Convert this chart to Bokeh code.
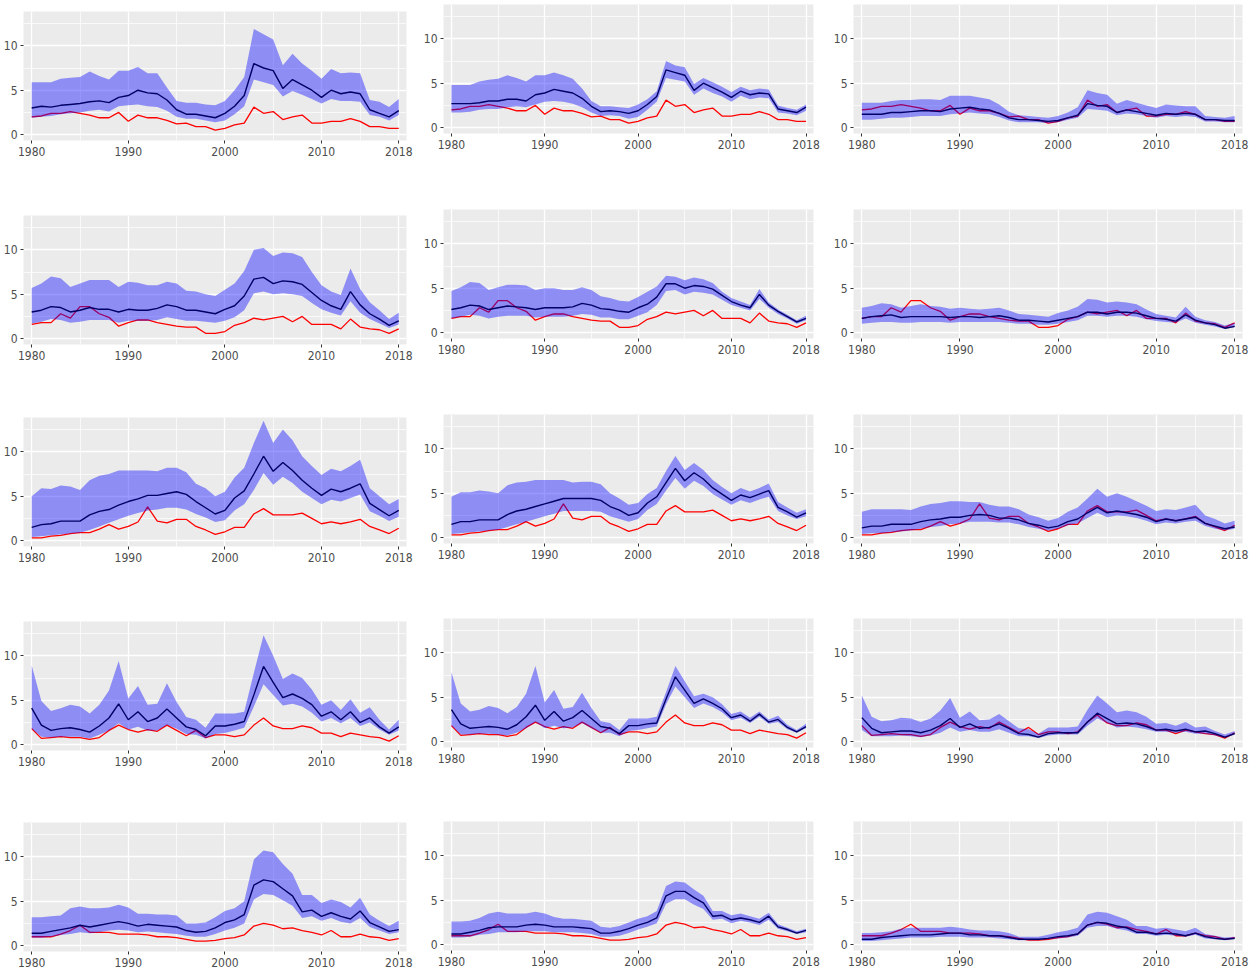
from bokeh.plotting import figure
from bokeh.layouts import row, column
from bokeh.models import Range1d, FixedTicker, Spacer
from bokeh.embed import file_html
from bokeh.resources import INLINE

years = list(range(1980, 2019))
x_ticks = [1980, 1990, 2000, 2010, 2018]
x_minor = [1985, 1995, 2005, 2014]
y_ticks = [0, 5, 10]
y_minor = [2.5, 7.5, 12.5]

# red series (same for every panel of a row)
red_r1 = [2.0, 2.1, 2.4, 2.4, 2.6, 2.4, 2.2, 1.9, 1.9, 2.5,
          1.5, 2.2, 1.9, 1.9, 1.6, 1.2, 1.3, 0.9, 0.9, 0.5,
          0.7, 1.1, 1.3, 3.1, 2.4, 2.6, 1.7, 2.0, 2.2, 1.3,
          1.3, 1.5, 1.5, 1.8, 1.5, 0.9, 0.9, 0.7, 0.7]
red_r2 = [1.6, 1.8, 1.8, 2.8, 2.3, 3.6, 3.6, 2.8, 2.4, 1.4,
          1.8, 2.1, 2.1, 1.8, 1.6, 1.4, 1.3, 1.3, 0.6, 0.6,
          0.8, 1.5, 1.8, 2.3, 2.1, 2.3, 2.5, 1.9, 2.5, 1.6,
          1.6, 1.6, 1.1, 2.2, 1.3, 1.1, 1.0, 0.6, 1.1]
red_r3 = [0.3, 0.3, 0.5, 0.6, 0.8, 0.9, 0.9, 1.3, 1.8, 1.3,
          1.6, 2.1, 3.8, 2.2, 2.0, 2.4, 2.4, 1.6, 1.2, 0.7,
          1.0, 1.5, 1.5, 3.0, 3.6, 2.9, 2.9, 2.9, 3.1, 2.5,
          1.9, 2.1, 1.9, 2.1, 2.4, 1.6, 1.2, 0.8, 1.4]
red_r4 = [1.8, 0.7, 0.8, 0.9, 0.8, 0.8, 0.6, 0.8, 1.6, 2.2,
          1.7, 1.4, 1.7, 1.5, 2.2, 1.6, 1.0, 1.6, 0.8, 1.1,
          1.1, 0.9, 1.1, 2.2, 3.0, 2.1, 1.8, 1.8, 2.1, 1.9,
          1.3, 1.3, 0.9, 1.3, 1.1, 0.9, 0.8, 0.4, 1.0]
red_r5 = [1.0, 1.0, 1.0, 1.3, 1.7, 2.3, 1.5, 1.5, 1.5, 1.3,
          1.3, 1.3, 1.2, 1.0, 1.0, 0.9, 0.7, 0.5, 0.5, 0.6,
          0.8, 0.9, 1.2, 2.2, 2.5, 2.3, 1.9, 2.0, 1.7, 1.5,
          1.2, 1.7, 1.0, 1.0, 1.3, 1.0, 0.9, 0.6, 0.8]

# row 1
mid_r1c1 = [3.0, 3.2, 3.1, 3.3, 3.4, 3.5, 3.7, 3.8, 3.6, 4.2,
            4.4, 5.0, 4.7, 4.6, 3.9, 2.8, 2.3, 2.3, 2.1, 1.9,
            2.4, 3.2, 4.4, 8.0, 7.5, 7.2, 5.2, 6.2, 5.6, 5.0,
            4.2, 5.0, 4.6, 4.8, 4.6, 2.8, 2.4, 2.0, 2.7]
hi_r1c1 = [5.9, 5.9, 5.9, 6.3, 6.4, 6.5, 7.1, 6.6, 6.2, 7.2,
           7.2, 7.6, 6.9, 6.9, 5.3, 3.8, 3.6, 3.6, 3.4, 3.3,
           3.8, 5.0, 6.5, 11.9, 11.3, 10.7, 7.8, 9.1, 8.0, 7.2,
           6.3, 7.4, 6.9, 7.0, 6.9, 3.9, 3.7, 3.1, 4.0]
lo_r1c1 = [1.9, 2.0, 2.1, 2.3, 2.4, 2.5, 2.7, 2.8, 2.6, 3.2,
           3.3, 3.4, 3.2, 3.1, 2.7, 2.0, 1.8, 1.8, 1.6, 1.4,
           1.6, 2.3, 3.2, 6.2, 5.9, 5.6, 4.3, 4.9, 4.5, 4.0,
           3.5, 4.0, 3.8, 3.8, 3.7, 2.2, 2.0, 1.6, 2.2]
mid_r1c2 = [2.7, 2.7, 2.7, 2.8, 3.0, 3.0, 3.2, 3.2, 3.0, 3.7,
            3.9, 4.3, 4.1, 3.9, 3.3, 2.4, 1.8, 1.9, 1.8, 1.6,
            1.9, 2.6, 3.5, 6.5, 6.2, 5.9, 4.2, 5.0, 4.5, 4.0,
            3.4, 4.1, 3.7, 3.9, 3.8, 2.1, 1.9, 1.7, 2.3]
hi_r1c2 = [4.8, 4.8, 4.8, 5.2, 5.4, 5.5, 5.9, 5.6, 5.2, 5.9,
           5.9, 6.2, 5.9, 5.5, 4.4, 3.0, 2.4, 2.4, 2.3, 2.2,
           2.6, 3.2, 4.1, 7.5, 7.0, 6.8, 4.9, 5.6, 5.1, 4.6,
           4.0, 4.6, 4.2, 4.4, 4.3, 2.5, 2.2, 2.0, 2.6]
lo_r1c2 = [1.7, 1.7, 1.8, 2.0, 2.1, 2.1, 2.3, 2.4, 2.3, 2.6,
           2.9, 3.0, 2.9, 2.7, 2.3, 1.7, 1.3, 1.4, 1.3, 1.0,
           1.2, 2.0, 2.9, 5.6, 5.4, 5.2, 3.7, 4.4, 3.9, 3.5,
           2.9, 3.6, 3.2, 3.4, 3.3, 1.7, 1.6, 1.4, 1.9]
mid_r1c3 = [1.5, 1.5, 1.5, 1.7, 1.7, 1.8, 1.9, 1.9, 1.8, 2.1,
            2.2, 2.3, 2.1, 2.0, 1.6, 1.1, 0.9, 0.9, 0.8, 0.7,
            0.8, 1.1, 1.4, 2.7, 2.5, 2.4, 1.7, 2.0, 1.8, 1.6,
            1.4, 1.6, 1.5, 1.6, 1.5, 0.9, 0.9, 0.8, 0.8]
hi_r1c3 = [2.8, 2.8, 2.8, 3.0, 3.1, 3.1, 3.2, 3.2, 3.1, 3.6,
           3.6, 3.6, 3.4, 3.2, 2.6, 1.8, 1.4, 1.3, 1.2, 1.1,
           1.3, 1.7, 2.3, 4.2, 3.9, 3.7, 2.7, 3.1, 2.8, 2.5,
           2.2, 2.6, 2.5, 2.4, 2.4, 1.3, 1.2, 1.1, 1.3]
lo_r1c3 = [0.9, 0.9, 1.0, 1.1, 1.1, 1.2, 1.3, 1.3, 1.3, 1.5,
           1.6, 1.7, 1.6, 1.5, 1.2, 0.8, 0.6, 0.6, 0.6, 0.5,
           0.6, 0.9, 1.1, 2.1, 2.0, 1.9, 1.4, 1.6, 1.5, 1.3,
           1.1, 1.3, 1.2, 1.3, 1.2, 0.7, 0.7, 0.6, 0.6]

# row 2
mid_r2c1 = [3.0, 3.2, 3.6, 3.5, 3.0, 3.2, 3.5, 3.3, 3.3, 3.0,
            3.3, 3.2, 3.2, 3.4, 3.8, 3.6, 3.2, 3.2, 3.0, 2.8,
            3.3, 3.7, 4.8, 6.7, 6.9, 6.2, 6.5, 6.4, 6.1, 5.2,
            4.3, 3.7, 3.3, 5.3, 3.8, 2.8, 2.2, 1.5, 2.0]
hi_r2c1 = [5.7, 6.2, 7.0, 6.8, 5.8, 6.2, 6.6, 6.6, 6.6, 5.8,
           6.4, 6.3, 6.0, 6.0, 6.4, 6.2, 5.4, 5.3, 5.0, 4.8,
           5.5, 6.2, 7.6, 10.0, 10.2, 9.3, 9.7, 9.6, 9.2, 7.5,
           6.0, 5.3, 4.9, 7.9, 5.6, 4.1, 3.2, 2.2, 2.9]
lo_r2c1 = [1.7, 1.9, 2.2, 2.1, 1.8, 1.9, 2.1, 2.1, 2.1, 1.8,
           2.0, 2.0, 2.0, 2.1, 2.4, 2.2, 2.0, 2.0, 1.9, 1.8,
           2.0, 2.4, 3.2, 5.1, 5.3, 5.0, 5.1, 5.0, 4.8, 4.0,
           3.3, 2.9, 2.6, 4.2, 2.9, 2.2, 1.7, 1.2, 1.6]
mid_r2c2 = [2.6, 2.8, 3.1, 3.0, 2.6, 2.8, 3.0, 2.9, 2.8, 2.6,
            2.8, 2.8, 2.8, 2.9, 3.3, 3.1, 2.7, 2.6, 2.4, 2.3,
            2.8, 3.2, 4.0, 5.5, 5.5, 5.0, 5.3, 5.2, 4.9, 4.2,
            3.5, 3.1, 2.8, 4.3, 3.1, 2.4, 1.8, 1.2, 1.6]
hi_r2c2 = [4.7, 5.1, 5.7, 5.6, 4.8, 5.1, 5.4, 5.4, 5.3, 4.8,
           5.0, 5.0, 4.8, 4.8, 5.1, 4.8, 4.1, 3.9, 3.6, 3.5,
           4.0, 4.6, 5.2, 6.4, 6.3, 5.9, 6.2, 6.0, 5.6, 4.6,
           3.9, 3.5, 3.1, 4.9, 3.4, 2.6, 2.0, 1.4, 1.9]
lo_r2c2 = [1.6, 1.8, 2.0, 1.9, 1.6, 1.8, 1.9, 1.9, 1.9, 1.7,
           1.8, 1.8, 1.8, 1.9, 2.1, 2.0, 1.7, 1.7, 1.5, 1.5,
           1.9, 2.3, 3.1, 4.7, 4.8, 4.3, 4.6, 4.5, 4.3, 3.7,
           3.1, 2.8, 2.5, 3.8, 2.8, 2.1, 1.6, 1.0, 1.4]
mid_r2c3 = [1.6, 1.8, 1.9, 2.0, 1.7, 1.8, 1.8, 1.8, 1.8, 1.7,
            1.8, 1.8, 1.7, 1.8, 1.9, 1.7, 1.4, 1.4, 1.3, 1.2,
            1.4, 1.6, 1.8, 2.3, 2.3, 2.1, 2.3, 2.3, 2.2, 1.9,
            1.6, 1.5, 1.3, 2.0, 1.4, 1.1, 0.9, 0.5, 0.7]
hi_r2c3 = [2.8, 3.0, 3.3, 3.2, 2.8, 3.0, 3.2, 3.0, 2.9, 2.7,
           2.8, 2.7, 2.6, 2.7, 2.8, 2.5, 2.1, 2.0, 1.9, 1.8,
           2.2, 2.5, 2.9, 3.8, 3.7, 3.4, 3.5, 3.4, 3.2, 2.6,
           2.1, 1.9, 1.7, 2.9, 1.8, 1.4, 1.2, 0.8, 1.1]
lo_r2c3 = [1.0, 1.1, 1.2, 1.2, 1.1, 1.1, 1.2, 1.2, 1.2, 1.1,
           1.2, 1.2, 1.2, 1.2, 1.2, 1.1, 1.0, 1.0, 0.9, 0.9,
           1.0, 1.2, 1.4, 1.9, 1.9, 1.8, 1.9, 1.9, 1.8, 1.5,
           1.3, 1.2, 1.1, 1.6, 1.1, 0.9, 0.7, 0.4, 0.6]

# row 3
mid_r3c1 = [1.5, 1.8, 1.9, 2.2, 2.2, 2.2, 2.9, 3.3, 3.5, 4.0,
            4.4, 4.7, 5.1, 5.1, 5.3, 5.5, 5.2, 4.4, 3.7, 3.0,
            3.4, 4.8, 5.6, 7.5, 9.5, 7.8, 8.8, 7.9, 6.8, 5.9,
            5.1, 5.8, 5.5, 5.9, 6.4, 4.2, 3.5, 2.8, 3.4]
hi_r3c1 = [5.0, 5.9, 5.8, 6.2, 6.1, 5.7, 6.8, 7.3, 7.5, 7.9,
           7.9, 7.9, 7.9, 7.8, 8.2, 8.2, 7.7, 6.4, 5.9, 5.0,
           5.5, 7.1, 8.2, 11.0, 13.5, 11.0, 12.5, 11.3, 9.5, 8.4,
           7.4, 8.1, 7.8, 8.4, 9.1, 5.9, 5.0, 4.1, 4.7]
lo_r3c1 = [0.4, 0.5, 0.6, 0.7, 0.8, 0.9, 1.2, 1.6, 2.0, 2.4,
           2.8, 3.1, 3.4, 3.5, 3.7, 3.7, 3.5, 3.0, 2.6, 2.1,
           2.3, 3.4, 4.1, 5.7, 7.6, 6.3, 7.2, 6.5, 5.5, 4.8,
           4.1, 4.6, 4.4, 4.8, 5.2, 3.3, 2.8, 2.2, 2.7]
mid_r3c2 = [1.5, 1.8, 1.8, 2.0, 2.0, 2.0, 2.6, 3.0, 3.2, 3.5,
            3.8, 4.1, 4.4, 4.4, 4.4, 4.4, 4.2, 3.5, 3.1, 2.5,
            2.8, 3.9, 4.6, 6.2, 7.8, 6.4, 7.3, 6.6, 5.6, 4.9,
            4.2, 4.8, 4.5, 4.9, 5.3, 3.4, 2.9, 2.3, 2.8]
hi_r3c2 = [4.6, 5.1, 5.1, 5.3, 5.2, 5.0, 5.9, 6.2, 6.3, 6.5,
           6.5, 6.5, 6.5, 6.2, 6.3, 6.3, 6.0, 5.0, 4.4, 3.7,
           3.9, 4.9, 5.6, 7.5, 9.2, 7.6, 8.4, 7.6, 6.5, 5.7,
           5.0, 5.6, 5.2, 5.6, 6.1, 4.0, 3.4, 2.8, 3.2]
lo_r3c2 = [0.4, 0.5, 0.6, 0.7, 0.8, 0.9, 1.2, 1.5, 1.8, 2.1,
           2.4, 2.7, 3.0, 3.0, 3.0, 3.0, 2.9, 2.4, 2.1, 1.8,
           2.1, 3.1, 3.8, 5.3, 6.7, 5.5, 6.4, 5.8, 4.9, 4.3,
           3.7, 4.2, 3.9, 4.3, 4.6, 3.0, 2.5, 2.1, 2.4]
mid_r3c3 = [1.1, 1.3, 1.3, 1.5, 1.5, 1.5, 1.8, 2.0, 2.1, 2.3,
            2.3, 2.5, 2.6, 2.5, 2.2, 2.2, 2.0, 1.6, 1.4, 1.1,
            1.3, 1.8, 2.1, 2.8, 3.4, 2.8, 3.0, 2.8, 2.6, 2.3,
            1.8, 2.1, 1.9, 2.1, 2.3, 1.6, 1.3, 1.0, 1.2]
hi_r3c3 = [2.9, 3.2, 3.2, 3.2, 3.2, 3.1, 3.5, 3.8, 3.9, 4.1,
           4.1, 4.0, 4.0, 3.7, 3.5, 3.5, 3.2, 2.6, 2.3, 1.9,
           2.2, 2.9, 3.4, 4.4, 5.5, 4.6, 5.0, 4.6, 4.1, 3.6,
           3.0, 3.2, 3.1, 3.4, 3.7, 2.5, 2.1, 1.6, 1.9]
lo_r3c3 = [0.4, 0.5, 0.5, 0.6, 0.7, 0.8, 1.0, 1.2, 1.3, 1.5,
           1.6, 1.8, 1.8, 1.8, 1.7, 1.7, 1.5, 1.2, 1.0, 0.8,
           1.0, 1.4, 1.6, 2.2, 2.8, 2.3, 2.5, 2.4, 2.2, 1.9,
           1.5, 1.7, 1.6, 1.8, 1.9, 1.3, 1.0, 0.8, 1.0]

# row 4
mid_r4c1 = [4.1, 2.2, 1.6, 1.8, 1.9, 1.7, 1.4, 2.1, 3.0, 4.6,
            2.8, 3.7, 2.6, 3.0, 4.0, 3.0, 2.0, 1.7, 1.0, 2.1,
            2.1, 2.3, 2.6, 5.6, 8.8, 7.0, 5.3, 5.7, 5.2, 4.5,
            3.2, 3.7, 2.8, 3.7, 2.5, 3.0, 2.0, 1.3, 2.0]
hi_r4c1 = [8.9, 4.9, 3.8, 4.1, 4.5, 4.3, 3.5, 4.5, 6.1, 9.4,
           5.2, 6.6, 4.5, 4.6, 6.9, 4.8, 3.1, 2.8, 1.9, 3.5,
           3.5, 3.5, 3.7, 8.1, 12.3, 10.0, 7.4, 8.0, 7.5, 6.2,
           4.5, 5.0, 3.9, 5.1, 3.6, 4.2, 2.8, 1.7, 2.8]
lo_r4c1 = [1.8, 0.9, 0.8, 0.9, 0.9, 0.9, 0.7, 1.1, 1.6, 2.4,
           1.7, 2.0, 1.6, 1.6, 2.2, 1.8, 1.2, 1.1, 0.7, 1.2,
           1.3, 1.6, 1.9, 4.3, 6.8, 5.6, 4.4, 4.6, 4.3, 3.6,
           2.6, 3.0, 2.4, 3.0, 2.1, 2.5, 1.7, 1.1, 1.6]
mid_r4c2 = [3.6, 2.0, 1.5, 1.6, 1.7, 1.6, 1.4, 1.9, 2.8, 4.1,
            2.4, 3.4, 2.3, 2.7, 3.5, 2.6, 1.7, 1.5, 0.9, 1.8,
            1.8, 2.0, 2.1, 4.8, 7.3, 5.8, 4.3, 4.8, 4.3, 3.7,
            2.7, 3.0, 2.3, 3.1, 2.2, 2.5, 1.6, 1.1, 1.7]
hi_r4c2 = [7.8, 4.3, 3.4, 3.6, 4.0, 3.8, 3.2, 3.9, 5.4, 8.5,
           4.4, 5.8, 3.7, 3.9, 5.5, 3.8, 2.3, 2.1, 1.3, 2.6,
           2.6, 2.6, 2.8, 5.6, 8.5, 6.8, 5.1, 5.4, 5.0, 4.2,
           3.1, 3.4, 2.7, 3.4, 2.5, 2.9, 1.9, 1.3, 2.0]
lo_r4c2 = [1.8, 0.8, 0.8, 0.9, 0.9, 0.8, 0.7, 1.0, 1.5, 2.2,
           1.5, 1.8, 1.5, 1.6, 2.1, 1.5, 1.0, 1.0, 0.6, 1.2,
           1.3, 1.5, 1.7, 4.2, 6.2, 5.0, 3.8, 4.3, 3.9, 3.3,
           2.4, 2.7, 2.1, 2.8, 2.0, 2.2, 1.4, 1.0, 1.5]
mid_r4c3 = [2.7, 1.5, 1.0, 1.1, 1.2, 1.2, 1.0, 1.3, 1.8, 2.6,
            1.6, 2.0, 1.5, 1.6, 2.0, 1.5, 0.9, 0.8, 0.5, 0.9,
            1.0, 1.0, 1.0, 2.2, 3.2, 2.6, 2.0, 2.1, 2.0, 1.7,
            1.3, 1.4, 1.2, 1.4, 1.1, 1.2, 0.9, 0.5, 0.9]
hi_r4c3 = [5.2, 2.8, 2.3, 2.4, 2.7, 2.6, 2.2, 2.6, 3.5, 4.9,
           2.7, 3.4, 2.4, 2.5, 3.1, 2.3, 1.5, 1.4, 0.9, 1.6,
           1.6, 1.6, 1.7, 3.6, 5.2, 4.3, 3.3, 3.5, 3.3, 2.8,
           2.0, 2.1, 1.8, 2.2, 1.6, 1.7, 1.2, 0.8, 1.2]
lo_r4c3 = [1.3, 0.6, 0.6, 0.6, 0.7, 0.6, 0.5, 0.7, 1.0, 1.6,
           1.1, 1.3, 1.1, 1.1, 1.4, 1.0, 0.6, 0.6, 0.4, 0.7,
           0.8, 0.8, 0.8, 1.8, 2.6, 2.1, 1.6, 1.7, 1.6, 1.4,
           1.1, 1.1, 1.0, 1.1, 0.9, 0.9, 0.7, 0.4, 0.8]

# row 5
mid_r5c1 = [1.4, 1.4, 1.6, 1.8, 2.0, 2.3, 2.1, 2.3, 2.5, 2.7,
            2.5, 2.2, 2.4, 2.3, 2.2, 2.1, 1.7, 1.5, 1.6, 2.0,
            2.6, 2.9, 3.5, 6.8, 7.4, 7.2, 6.4, 5.6, 3.8, 4.0,
            3.3, 3.7, 3.3, 3.0, 3.9, 2.6, 2.1, 1.6, 1.8]
hi_r5c1 = [3.2, 3.2, 3.3, 3.4, 4.2, 4.4, 4.2, 4.2, 4.3, 4.6,
           4.3, 3.6, 3.6, 3.5, 3.5, 3.4, 2.5, 2.5, 2.6, 3.2,
           3.9, 4.2, 5.0, 9.7, 10.7, 10.5, 9.2, 8.1, 5.7, 5.7,
           4.8, 5.2, 4.9, 4.3, 5.4, 3.5, 2.8, 2.2, 2.8]
lo_r5c1 = [0.9, 0.9, 1.0, 1.2, 1.3, 1.5, 1.4, 1.5, 1.7, 1.8,
           1.7, 1.5, 1.6, 1.5, 1.4, 1.3, 1.1, 1.0, 1.0, 1.3,
           1.7, 2.0, 2.5, 5.2, 5.8, 5.7, 5.1, 4.5, 3.1, 3.3,
           2.8, 3.1, 2.7, 2.5, 3.1, 2.1, 1.7, 1.3, 1.5]
mid_r5c2 = [1.2, 1.2, 1.4, 1.6, 1.9, 2.0, 2.0, 2.0, 2.2, 2.3,
            2.2, 2.0, 2.0, 2.0, 1.9, 1.8, 1.3, 1.3, 1.5, 1.8,
            2.2, 2.5, 3.0, 5.5, 6.0, 6.0, 5.3, 4.7, 3.2, 3.3,
            2.8, 3.0, 2.8, 2.5, 3.2, 2.0, 1.7, 1.3, 1.6]
hi_r5c2 = [2.6, 2.6, 2.7, 3.0, 3.5, 3.7, 3.5, 3.5, 3.5, 3.7,
           3.5, 3.1, 2.9, 2.9, 2.8, 2.7, 2.0, 1.9, 2.1, 2.5,
           2.9, 3.2, 3.8, 6.6, 7.1, 7.0, 6.2, 5.5, 3.8, 3.8,
           3.3, 3.5, 3.2, 2.9, 3.6, 2.3, 1.9, 1.5, 1.8]
lo_r5c2 = [0.8, 0.8, 0.9, 1.1, 1.2, 1.4, 1.4, 1.4, 1.5, 1.5,
           1.5, 1.4, 1.4, 1.4, 1.3, 1.2, 0.9, 0.9, 1.0, 1.3,
           1.7, 2.0, 2.4, 4.6, 5.1, 5.1, 4.5, 4.0, 2.8, 2.9,
           2.4, 2.7, 2.5, 2.2, 2.8, 1.8, 1.5, 1.2, 1.4]
mid_r5c3 = [0.6, 0.6, 0.8, 0.9, 1.0, 1.1, 1.1, 1.1, 1.2, 1.3,
            1.3, 1.1, 1.1, 1.0, 1.0, 0.8, 0.6, 0.6, 0.6, 0.7,
            0.9, 1.0, 1.2, 2.2, 2.5, 2.4, 2.1, 1.9, 1.4, 1.4,
            1.2, 1.3, 1.2, 1.0, 1.3, 0.9, 0.7, 0.6, 0.7]
hi_r5c3 = [1.3, 1.3, 1.4, 1.5, 1.8, 1.9, 1.9, 1.9, 1.9, 2.0,
           1.9, 1.7, 1.6, 1.6, 1.5, 1.3, 0.9, 0.9, 0.9, 1.1,
           1.4, 1.6, 1.9, 3.4, 3.7, 3.6, 3.2, 2.8, 2.1, 2.1,
           1.8, 1.9, 1.7, 1.5, 1.9, 1.2, 1.0, 0.8, 0.9]
lo_r5c3 = [0.4, 0.4, 0.5, 0.6, 0.7, 0.8, 0.8, 0.8, 0.9, 0.9,
           0.9, 0.8, 0.8, 0.8, 0.7, 0.6, 0.5, 0.5, 0.5, 0.6,
           0.7, 0.8, 1.0, 1.9, 2.1, 2.1, 1.8, 1.6, 1.2, 1.2,
           1.0, 1.1, 1.0, 0.9, 1.1, 0.7, 0.6, 0.5, 0.6]

reds = [red_r1, red_r2, red_r3, red_r4, red_r5]
bands = [
    [(lo_r1c1, mid_r1c1, hi_r1c1), (lo_r1c2, mid_r1c2, hi_r1c2), (lo_r1c3, mid_r1c3, hi_r1c3)],
    [(lo_r2c1, mid_r2c1, hi_r2c1), (lo_r2c2, mid_r2c2, hi_r2c2), (lo_r2c3, mid_r2c3, hi_r2c3)],
    [(lo_r3c1, mid_r3c1, hi_r3c1), (lo_r3c2, mid_r3c2, hi_r3c2), (lo_r3c3, mid_r3c3, hi_r3c3)],
    [(lo_r4c1, mid_r4c1, hi_r4c1), (lo_r4c2, mid_r4c2, hi_r4c2), (lo_r4c3, mid_r4c3, hi_r4c3)],
    [(lo_r5c1, mid_r5c1, hi_r5c1), (lo_r5c2, mid_r5c2, hi_r5c2), (lo_r5c3, mid_r5c3, hi_r5c3)],
]

# layout (pixels)
col_left = [23, 23, 22]
col_frame = [383, 370, 389]
col_right = [14, 17, 9]
FRAME_H = 129
# total figure heights per column, top to bottom; first column sits a bit lower
col_top_pad = [11, 4, 4]
col_heights = [[204, 202, 204, 201, 150],
               [205, 205, 204, 203, 150],
               [205, 205, 204, 203, 150]]

FONT = "DejaVu Sans Condensed"


def make_panel(r, c):
    p = figure(frame_width=col_frame[c], frame_height=FRAME_H,
               min_border_left=col_left[c], min_border_right=col_right[c],
               min_border_top=0, min_border_bottom=col_heights[c][r] - FRAME_H,
               x_range=Range1d(1979.15, 2018.8), y_range=Range1d(-0.66, 13.86),
               output_backend="svg", toolbar_location=None, tools="")
    p.background_fill_color = "#EBEBEB"
    p.border_fill_color = "white"
    p.outline_line_color = None

    p.xaxis.ticker = FixedTicker(ticks=x_ticks, minor_ticks=x_minor)
    p.yaxis.ticker = FixedTicker(ticks=y_ticks, minor_ticks=y_minor)
    for ax in (p.xaxis, p.yaxis):
        ax.axis_line_color = None
        ax.minor_tick_line_color = None
        ax.major_tick_line_color = "#333333"
        ax.major_tick_in = 0
        ax.major_tick_out = 3
        ax.major_label_standoff = 2
        ax.major_label_text_font = FONT
        ax.major_label_text_font_size = "12px"
        ax.major_label_text_color = "#4D4D4D"

    p.grid.grid_line_color = "white"
    p.grid.grid_line_width = 1.3
    p.grid.minor_grid_line_color = "white"
    p.grid.minor_grid_line_width = 0.7

    lo, mid, hi = bands[r][c]
    p.line(years, reds[r], line_color="red", line_width=1.3)
    p.line(years, mid, line_color="black", line_width=1.4)
    p.varea(x=years, y1=lo, y2=hi, fill_color="blue", fill_alpha=0.4)
    return p


cols = []
for c in range(3):
    items = [Spacer(width=10, height=col_top_pad[c])]
    items += [make_panel(r, c) for r in range(5)]
    cols.append(column(*items))

layout = row(*cols)

open("out.html", "w").write(file_html(layout, INLINE))
